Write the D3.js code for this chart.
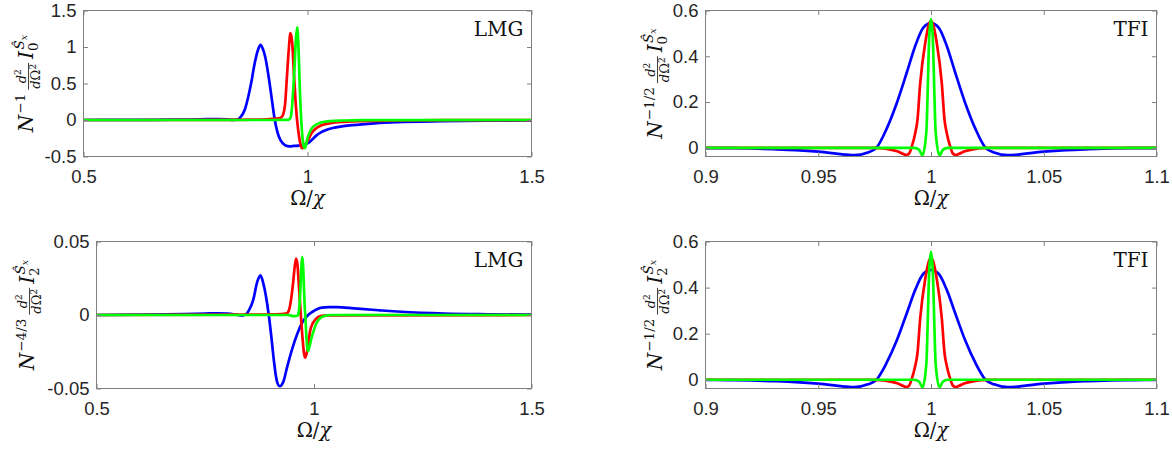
<!DOCTYPE html>
<html><head><meta charset="utf-8">
<script src="https://cdn.jsdelivr.net/npm/d3@7/dist/d3.min.js"></script>
<style>body{margin:0;background:#fff}svg{display:block}</style>
</head><body>
<svg id="c" width="1172" height="449"></svg>
<script>
// ---------- tick values and labels ----------
const xTicksLMG = [0.5, 1, 1.5];
const xTickLabelsLMG = ["0.5", "1", "1.5"];
const xTicksTFI = [0.9, 0.95, 1, 1.05, 1.1];
const xTickLabelsTFI = ["0.9", "0.95", "1", "1.05", "1.1"];
const yTicksLMG0 = [-0.5, 0, 0.5, 1, 1.5];
const yTickLabelsLMG0 = ["-0.5", "0", "0.5", "1", "1.5"];
const yTicksLMG2 = [-0.05, 0, 0.05];
const yTickLabelsLMG2 = ["-0.05", "0", "0.05"];
const yTicksTFI = [0, 0.2, 0.4, 0.6];
const yTickLabelsTFI = ["0", "0.2", "0.4", "0.6"];

// ---------- series (Omega/chi, value) ----------
// LMG, I_0
const lmg0Blue = [[0.5,0],[0.6,0.002],[0.7,0.004],[0.76,0.01],[0.8,0.012],[0.82,0.008],[0.835,0.002],[0.845,0.01],[0.85,0.035],[0.86,0.14],[0.87,0.38],[0.875,0.53],[0.88,0.71],[0.89,0.97],[0.895,1.03],[0.9,0.98],[0.905,0.88],[0.91,0.72],[0.915,0.52],[0.92,0.3],[0.927,0.0],[0.933,-0.17],[0.94,-0.28],[0.95,-0.345],[0.96,-0.36],[0.97,-0.355],[0.98,-0.35],[0.99,-0.34],[1.0,-0.32],[1.01,-0.27],[1.02,-0.21],[1.03,-0.17],[1.04,-0.14],[1.06,-0.105],[1.08,-0.085],[1.1,-0.07],[1.15,-0.045],[1.2,-0.03],[1.3,-0.017],[1.4,-0.01],[1.5,-0.006]];
const lmg0Red = [[0.5,0],[0.8,0.001],[0.88,0.004],[0.91,0.01],[0.93,0.018],[0.94,0.03],[0.945,0.065],[0.95,0.22],[0.954,0.58],[0.958,0.95],[0.962,1.19],[0.966,1.05],[0.97,0.6],[0.974,0.2],[0.977,-0.02],[0.981,-0.22],[0.985,-0.35],[0.988,-0.385],[0.992,-0.37],[0.996,-0.33],[1.0,-0.29],[1.01,-0.17],[1.02,-0.11],[1.03,-0.075],[1.05,-0.045],[1.08,-0.025],[1.1,-0.018],[1.2,-0.007],[1.3,-0.003],[1.5,-0.001]];
const lmg0Green = [[0.5,0],[0.9,0],[0.95,0.002],[0.958,0.005],[0.962,0.03],[0.965,0.15],[0.968,0.4],[0.971,0.72],[0.974,1.1],[0.977,1.27],[0.9795,1.05],[0.982,0.6],[0.984,0.25],[0.986,0.0],[0.989,-0.25],[0.992,-0.37],[0.994,-0.385],[0.997,-0.33],[1.0,-0.25],[1.005,-0.165],[1.01,-0.11],[1.02,-0.06],[1.03,-0.035],[1.05,-0.015],[1.08,-0.007],[1.1,-0.004],[1.2,-0.001],[1.5,0]];
// LMG, I_2
const lmg2Blue = [[0.5,0],[0.6,0.0002],[0.7,0.0006],[0.75,0.001],[0.78,0.0012],[0.8,0.001],[0.82,0.0003],[0.835,-0.0004],[0.845,0.0008],[0.85,0.003],[0.86,0.01],[0.87,0.023],[0.877,0.027],[0.883,0.022],[0.8882,0.015],[0.896,0.0],[0.902,-0.015],[0.907,-0.029],[0.9147,-0.045],[0.921,-0.0484],[0.93,-0.045],[0.9377,-0.036],[0.9494,-0.0235],[0.961,-0.0133],[0.9725,-0.0053],[0.984,-0.0008],[0.99,0.0008],[0.999,0.0026],[1.0145,0.0049],[1.035,0.0054],[1.053,0.0053],[1.08,0.0048],[1.1,0.0043],[1.15,0.0032],[1.2,0.0022],[1.3,0.001],[1.4,0.0005],[1.5,0.0002]];
const lmg2Red = [[0.5,0],[0.85,0.0002],[0.9,0.0004],[0.93,0.0008],[0.938,0.0012],[0.944,0.005],[0.948,0.012],[0.952,0.022],[0.955,0.031],[0.9587,0.0384],[0.962,0.034],[0.9655,0.019],[0.9697,0.0],[0.974,-0.017],[0.977,-0.026],[0.98,-0.029],[0.984,-0.025],[0.9876,-0.018],[0.991,-0.011],[0.9957,-0.0065],[1.0035,-0.003],[1.015,-0.0008],[1.03,-0.0002],[1.5,0]];
const lmg2Green = [[0.5,0],[0.94,0],[0.955,-0.0008],[0.962,-0.0005],[0.965,0.002],[0.967,0.008],[0.969,0.02],[0.971,0.033],[0.973,0.0396],[0.975,0.033],[0.977,0.018],[0.979,0.004],[0.98,0.0],[0.982,-0.012],[0.984,-0.021],[0.986,-0.0246],[0.99,-0.021],[0.994,-0.016],[0.999,-0.011],[1.005,-0.006],[1.0145,-0.002],[1.025,-0.0006],[1.04,0],[1.5,0]];
// TFI, I_0
const tfi0Blue = [[0.9,-0.001],[0.91,-0.0015],[0.92,-0.003],[0.93,-0.006],[0.94,-0.01],[0.95,-0.017],[0.955,-0.022],[0.96,-0.028],[0.966,-0.032],[0.972,-0.02],[0.9758,0.0],[0.9804,0.085],[0.9848,0.195],[0.9893,0.33],[0.993,0.445],[0.9966,0.525],[1.0,0.545],[1.0034,0.525],[1.007,0.445],[1.0107,0.33],[1.0152,0.195],[1.0196,0.085],[1.0242,0.0],[1.028,-0.02],[1.034,-0.032],[1.04,-0.028],[1.045,-0.022],[1.05,-0.017],[1.06,-0.01],[1.07,-0.006],[1.08,-0.003],[1.09,-0.0015],[1.1,-0.001]];
const tfi0Red = [[0.9,0],[0.97,0],[0.975,-0.0005],[0.979,-0.003],[0.982,-0.008],[0.985,-0.015],[0.9875,-0.026],[0.989,-0.032],[0.9903,-0.025],[0.9915,0.006],[0.993,0.064],[0.994,0.122],[0.9952,0.28],[0.9974,0.456],[1.0,0.555],[1.0026,0.456],[1.0048,0.28],[1.006,0.122],[1.007,0.064],[1.0085,0.006],[1.0097,-0.025],[1.011,-0.032],[1.0125,-0.026],[1.015,-0.015],[1.018,-0.008],[1.021,-0.003],[1.025,-0.0005],[1.03,0],[1.1,0]];
const tfi0Green = [[0.9,0],[0.9925,0],[0.994,-0.004],[0.995,-0.012],[0.9962,-0.034],[0.9979,0.065],[0.9993,0.5],[1.0,0.562],[1.0007,0.5],[1.0021,0.065],[1.0038,-0.034],[1.005,-0.012],[1.006,-0.004],[1.0075,0],[1.1,0]];
// TFI, I_2
const tfi2Blue = [[0.9,-0.001],[0.91,-0.0015],[0.92,-0.003],[0.93,-0.006],[0.94,-0.01],[0.95,-0.017],[0.955,-0.022],[0.96,-0.028],[0.966,-0.032],[0.972,-0.02],[0.9758,0.0],[0.9804,0.075],[0.9848,0.17],[0.9893,0.29],[0.993,0.39],[0.9966,0.46],[1.0,0.477],[1.0034,0.46],[1.007,0.39],[1.0107,0.29],[1.0152,0.17],[1.0196,0.075],[1.0242,0.0],[1.028,-0.02],[1.034,-0.032],[1.04,-0.028],[1.045,-0.022],[1.05,-0.017],[1.06,-0.01],[1.07,-0.006],[1.08,-0.003],[1.09,-0.0015],[1.1,-0.001]];
const tfi2Red = [[0.9,0],[0.97,0],[0.975,-0.0005],[0.979,-0.003],[0.982,-0.008],[0.985,-0.015],[0.9875,-0.026],[0.989,-0.032],[0.9903,-0.025],[0.9915,0.005],[0.993,0.06],[0.994,0.115],[0.9952,0.265],[0.9974,0.435],[1.0,0.53],[1.0026,0.435],[1.0048,0.265],[1.006,0.115],[1.007,0.06],[1.0085,0.005],[1.0097,-0.025],[1.011,-0.032],[1.0125,-0.026],[1.015,-0.015],[1.018,-0.008],[1.021,-0.003],[1.025,-0.0005],[1.03,0],[1.1,0]];
const tfi2Green = [[0.9,0],[0.9925,0],[0.994,-0.004],[0.995,-0.012],[0.9962,-0.034],[0.9979,0.065],[0.9993,0.49],[1.0,0.555],[1.0007,0.49],[1.0021,0.065],[1.0038,-0.034],[1.005,-0.012],[1.006,-0.004],[1.0075,0],[1.1,0]];

const seriesColors = ["#0000ff", "#ff0000", "#00ff00"];

// ---------- layout ----------
const panels = [
  {box:[83.5,531.5,10.5,156.5], xd:[0.5,1.5], yd:[-0.5,1.5], xt:xTicksLMG, xtl:xTickLabelsLMG, yt:yTicksLMG0, ytl:yTickLabelsLMG0, series:[lmg0Blue,lmg0Red,lmg0Green], tag:"LMG", exp:"\u22121", sub:"0", ylx:33},
  {box:[705.5,1156.5,10.5,156.5], xd:[0.9,1.1], yd:[-0.038,0.6], xt:xTicksTFI, xtl:xTickLabelsTFI, yt:yTicksTFI, ytl:yTickLabelsTFI, series:[tfi0Blue,tfi0Red,tfi0Green], tag:"TFI", exp:"\u22121/2", sub:"0", ylx:662},
  {box:[96.5,531.5,241.5,388.5], xd:[0.5,1.5], yd:[-0.05,0.05], xt:xTicksLMG, xtl:xTickLabelsLMG, yt:yTicksLMG2, ytl:yTickLabelsLMG2, series:[lmg2Blue,lmg2Red,lmg2Green], tag:"LMG", exp:"\u22124/3", sub:"2", ylx:34},
  {box:[705.5,1156.5,241.5,388.5], xd:[0.9,1.1], yd:[-0.038,0.6], xt:xTicksTFI, xtl:xTickLabelsTFI, yt:yTicksTFI, ytl:yTickLabelsTFI, series:[tfi2Blue,tfi2Red,tfi2Green], tag:"TFI", exp:"\u22121/2", sub:"2", ylx:662}
];

const svg = d3.select("#c");
const SANS = "'Liberation Sans', Arial, sans-serif";
const SERIF = "'DejaVu Serif', serif";
const AX = "#808080", TXT = "#262626";
const tickLen = 4.5;

function yLabel(parent, cx, cy, exp, sub) {
  const g = parent.append("g").attr("transform", `translate(${cx},${cy}) rotate(-90)`);
  const inner = g.append("g");
  let x = 0;
  const t = (str, size, italic, tx, ty) => {
    const el = inner.append("text").attr("x", tx).attr("y", ty)
      .attr("font-family", SERIF).attr("font-size", size)
      .attr("font-style", italic ? "italic" : "normal").attr("fill", "#111").text(str);
    return el;
  };
  const N = t("N", 20, true, x, 0); x += N.node().getComputedTextLength();
  const e = t(exp, 13.5, false, x + 1, -8); x += e.node().getComputedTextLength() + 1 + 4;
  // fraction d^2 / dOmega^2
  const num = inner.append("text").attr("font-family", SERIF).attr("font-size", 13).attr("fill", "#111").attr("y", -7.5);
  num.append("tspan").attr("font-style", "italic").text("d");
  num.append("tspan").attr("font-size", 9).attr("dy", -4.5).text("2");
  const den = inner.append("text").attr("font-family", SERIF).attr("font-size", 13).attr("fill", "#111").attr("y", 7);
  den.append("tspan").attr("font-style", "italic").text("d");
  den.append("tspan").text("\u03A9");
  den.append("tspan").attr("font-size", 9).attr("dy", -4.5).text("2");
  const nw = num.node().getComputedTextLength(), dw = den.node().getComputedTextLength();
  const fw = Math.max(nw, dw) + 2;
  num.attr("x", x + (fw - nw) / 2);
  den.attr("x", x + (fw - dw) / 2);
  inner.append("line").attr("x1", x).attr("x2", x + fw).attr("y1", -4.5).attr("y2", -4.5)
    .attr("stroke", "#111").attr("stroke-width", 0.8);
  x += fw + 4;
  const I = t("I", 20, true, x, 0); x += I.node().getComputedTextLength();
  const s = t(sub, 13.5, false, x, 5);
  const sup = inner.append("text").attr("font-family", SERIF).attr("font-size", 13.5).attr("fill", "#111")
    .attr("x", x + 1.5).attr("y", -9);
  sup.append("tspan").attr("font-style", "italic").text("\u015C");
  sup.append("tspan").attr("font-style", "italic").attr("font-size", 9.5).attr("dy", 2.5).text("x");
  x += Math.max(s.node().getComputedTextLength(), sup.node().getComputedTextLength() + 1.5);
  inner.attr("transform", `translate(${-x / 2},0)`);
}

panels.forEach((p, i) => {
  const [x0, x1, y0, y1] = p.box;
  const xs = d3.scaleLinear().domain(p.xd).range([x0, x1]);
  const ys = d3.scaleLinear().domain(p.yd).range([y1, y0]);
  const g = svg.append("g");

  const clipId = "clip" + i;
  svg.append("clipPath").attr("id", clipId).append("rect")
    .attr("x", x0).attr("y", y0).attr("width", x1 - x0).attr("height", y1 - y0);

  const line = d3.line().x(d => xs(d[0])).y(d => ys(d[1])).curve(d3.curveMonotoneX);
  const lg = g.append("g").attr("clip-path", `url(#${clipId})`);
  p.series.forEach((s, k) => {
    lg.append("path").datum(s).attr("d", line).attr("fill", "none")
      .attr("stroke", seriesColors[k]).attr("stroke-width", 2.7)
      .attr("stroke-linejoin", "round").attr("stroke-linecap", "butt");
  });

  // axes (ticks inside, mirrored)
  const styleAxis = (sel) => {
    sel.select(".domain").remove();
    sel.selectAll(".tick line").attr("stroke", AX).attr("stroke-width", 1);
    sel.selectAll(".tick text").attr("font-family", SANS).attr("font-size", 18.5).attr("fill", TXT);
  };
  g.append("g").attr("transform", `translate(0,${y1})`)
    .call(d3.axisBottom(xs).tickValues(p.xt).tickFormat((d, j) => p.xtl[j]).tickSizeInner(-tickLen).tickSizeOuter(0).tickPadding(12.9))
    .call(styleAxis);
  g.append("g").attr("transform", `translate(0,${y0})`)
    .call(d3.axisTop(xs).tickValues(p.xt).tickFormat("").tickSizeInner(-tickLen).tickSizeOuter(0))
    .call(styleAxis);
  g.append("g").attr("transform", `translate(${x0},0)`)
    .call(d3.axisLeft(ys).tickValues(p.yt).tickFormat((d, j) => p.ytl[j]).tickSizeInner(-tickLen).tickSizeOuter(0).tickPadding(7))
    .call(styleAxis);
  g.append("g").attr("transform", `translate(${x1},0)`)
    .call(d3.axisRight(ys).tickValues(p.yt).tickFormat("").tickSizeInner(-tickLen).tickSizeOuter(0))
    .call(styleAxis);

  g.append("rect").attr("x", x0).attr("y", y0).attr("width", x1 - x0).attr("height", y1 - y0)
    .attr("fill", "none").attr("stroke", AX).attr("stroke-width", 1);

  // tag
  g.append("text").attr("x", x1 - 8).attr("y", y0 + 25.5).attr("text-anchor", "end")
    .attr("font-family", SERIF).attr("font-size", 20).attr("fill", "#111").text(p.tag);

  // x label
  const xl = g.append("text").attr("x", (x0 + x1) / 2).attr("y", y1 + 48).attr("text-anchor", "middle")
    .attr("font-family", SERIF).attr("font-size", 19.5).attr("fill", "#111");
  xl.append("tspan").text("\u03A9/");
  xl.append("tspan").attr("font-style", "italic").text("\u03C7");

  yLabel(g, p.ylx, (y0 + y1) / 2, p.exp, p.sub);
});
</script>
</body></html>
